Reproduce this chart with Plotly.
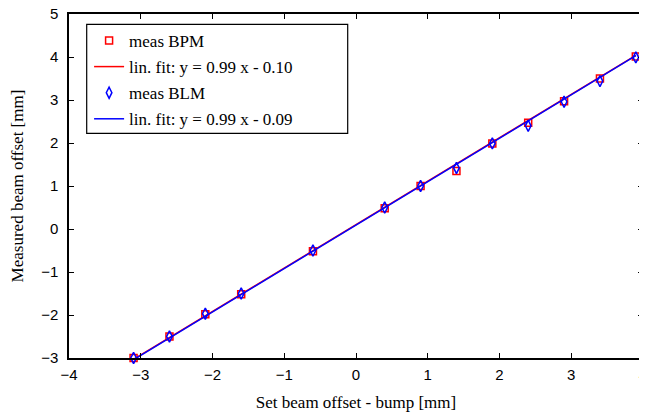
import plotly.graph_objects as go

# Data
set_offset = [-3.1, -2.6, -2.1, -1.6, -0.6, 0.4, 0.9, 1.4, 1.9, 2.4, 2.9, 3.4, 3.9]
meas_bpm = [-3.0, -2.5, -1.98, -1.52, -0.52, 0.48, 1.0, 1.35, 1.99, 2.47, 2.97, 3.5, 4.01]
meas_blm = [-3.0, -2.5, -1.97, -1.5, -0.5, 0.5, 1.0, 1.42, 1.99, 2.4, 2.96, 3.44, 3.99]

fit_x = [-3.1, 3.9]
fit_bpm_y = [-3.03, 4.04]
fit_blm_y = [-3.04, 4.03]

x_ticks = [-4, -3, -2, -1, 0, 1, 2, 3, 4]
y_ticks = [-3, -2, -1, 0, 1, 2, 3, 4, 5]

serif = "Liberation Serif"
sans = "Liberation Sans"

fig = go.Figure()
fig.add_trace(go.Scatter(
    x=set_offset, y=meas_bpm, mode="markers", name="meas BPM", legendgroup="a",
    marker=dict(symbol="square-open", size=7, color="#ff0000", line=dict(width=1.5, color="#ff0000")),
    cliponaxis=False))
fig.add_trace(go.Scatter(
    x=fit_x, y=fit_bpm_y, mode="lines", name="lin. fit: y = 0.99 x - 0.10", legendgroup="b",
    line=dict(color="#ff0000", width=1.5)))
fig.add_trace(go.Scatter(
    x=set_offset, y=meas_blm, mode="markers", name="meas BLM", legendgroup="c",
    marker=dict(symbol="diamond-tall-open", size=8, color="#0000ff", line=dict(width=1.5, color="#0000ff")),
    cliponaxis=False))
fig.add_trace(go.Scatter(
    x=fit_x, y=fit_blm_y, mode="lines", name="lin. fit: y = 0.99 x - 0.09", legendgroup="d",
    line=dict(color="#0000ff", width=1.5)))

axis_common = dict(
    showline=True, linecolor="black", linewidth=1.5, mirror="ticks",
    ticks="inside", ticklen=5, tickwidth=1, tickcolor="black",
    showgrid=False, zeroline=False, automargin=False, ticklabeloverflow="allow",
    tickfont=dict(family=sans, size=15, color="black"),
)

fig.update_xaxes(
    range=[-4, 4], tickvals=x_ticks, ticklabelstandoff=2,
    title=dict(text="Set beam offset - bump [mm]", font=dict(family=serif, size=17, color="black"), standoff=16),
    **axis_common)
fig.update_yaxes(
    range=[-3, 5], tickvals=y_ticks, ticklabelstandoff=6,
    title=dict(text="Measured beam offset [mm]", font=dict(family=serif, size=17, color="black"), standoff=24),
    **axis_common)

# The page body has an 8px margin, so the figure is shifted/sized to compensate.
fig.update_layout(
    width=639, height=404,
    margin=dict(l=61, r=4, t=6, b=54),
    paper_bgcolor="white", plot_bgcolor="white",
    showlegend=True,
    legend=dict(
        x=0.035, y=0.974, xanchor="left", yanchor="top",
        bgcolor="rgba(0,0,0,0)", borderwidth=0,
        font=dict(family=serif, size=17, color="black"),
        tracegroupgap=1, itemwidth=30,
    ),
    shapes=[dict(
        type="rect", xref="paper", yref="paper",
        x0=(86.7 - 69) / 574, x1=(347.7 - 69) / 574,
        y0=(358 - 133.3) / 344, y1=(358 - 24.3) / 344,
        line=dict(color="black", width=1.2), fillcolor="white", layer="above",
    )],
)

fig.write_html("out.html")
